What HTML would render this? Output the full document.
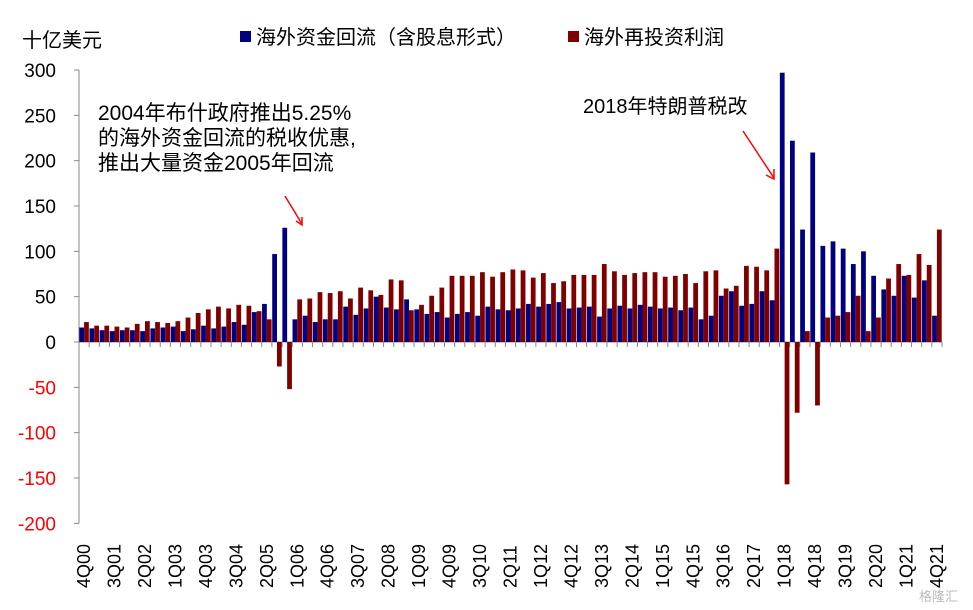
<!DOCTYPE html>
<html><head><meta charset="utf-8">
<style>
body{margin:0;background:#fff;}
svg{display:block;font-family:"Liberation Sans","Noto Sans CJK SC",sans-serif;}
</style></head>
<body>
<svg id="chart" width="973" height="610" viewBox="0 0 973 610">
<text x="22" y="47" font-size="20" fill="#000">十亿美元</text>
<g>
<rect x="240" y="31" width="11" height="11" fill="#000080"/>
<text x="256" y="44" font-size="20">海外资金回流（含股息形式）</text>
<rect x="568" y="31" width="11" height="11" fill="#800000"/>
<text x="584" y="44" font-size="20">海外再投资利润</text>
</g>
<g id="axes"></g>
<g id="bars"></g>
<g>
<text x="98" y="120" font-size="21">2004年布什政府推出5.25%</text>
<text x="98" y="145" font-size="21">的海外资金回流的税收优惠,</text>
<text x="98" y="170" font-size="21">推出大量资金2005年回流</text>
<line x1="285" y1="196" x2="302" y2="224" stroke="#ff0000" stroke-width="1.5"/>
<polyline points="296,221 302,225 302,217" fill="none" stroke="#ff0000" stroke-width="1.5"/>
</g>
<g>
<text x="583" y="113" font-size="20">2018年特朗普税改</text>
<line x1="743" y1="131" x2="774" y2="178" stroke="#ff0000" stroke-width="1.5"/>
<polyline points="766,175 774,179 774,169" fill="none" stroke="#ff0000" stroke-width="1.5"/>
</g>
<text x="958" y="601" font-size="13" fill="#bbb" text-anchor="end">格隆汇</text>
</svg>
<script>
const categories=[];
const qs=['1Q','2Q','3Q','4Q'];
categories.push('4Q00');
for(let y=1;y<=21;y++){for(let q=0;q<4;q++){categories.push(qs[q]+String(y).padStart(2,'0'));}}
const repatriation=[16,15,13,12,13,13,12,15,16,17,12,14,18,15,17,22,19,33,42,97,126,25,29,22,25,25,39,30,37,50,38,36,47,36,31,33,27,31,33,29,39,36,35,37,42,39,42,44,37,38,39,28,37,40,37,41,39,37,38,35,38,25,29,51,56,40,42,56,46,297,222,124,209,106,111,103,86,100,73,58,51,73,49,68,29];
const reinvested=[22,18,18,17,16,20,23,22,21,23,27,32,36,39,37,41,40,34,25,-27,-52,47,48,55,54,56,48,60,57,52,69,68,35,41,51,60,73,73,73,77,72,77,80,79,71,76,65,67,74,74,74,86,78,74,76,77,77,72,73,75,65,78,79,59,62,84,83,79,103,-157,-78,12,-70,27,29,33,51,12,27,70,86,74,97,85,124];
const yTicks=[300,250,200,150,100,50,0,-50,-100,-150,-200];
const NS='http://www.w3.org/2000/svg';
const X0=79,X1=942,Y0=342,PX=0.9067;
const gw=(X1-X0)/categories.length;
function y(v){return Y0-v*PX;}
function x(i){return X0+i*gw;}
function mk(t,a,p){const e=document.createElementNS(NS,t);for(const k in a)e.setAttribute(k,a[k]);p.appendChild(e);return e;}
const ax=document.getElementById('axes'),bg=document.getElementById('bars');
const yl=mk('line',{x1:X0,y1:y(300),x2:X0,y2:y(-200),stroke:'#888','stroke-width':1},ax);


yTicks.forEach(t=>{
 const tk=mk('line',{x1:X0-5,y1:y(t),x2:X0,y2:y(t),stroke:'#888'},ax);
 
 
 const tx=mk('text',{x:56,y:y(t)+7,'font-size':19,'text-anchor':'end',fill:t<0?'#ff0000':'#000'},ax);
 tx.textContent=t;
 
 
});
categories.forEach((c,i)=>{
 const bw=gw*0.47;
 const b=repatriation[i],r=reinvested[i];
 const rb=mk('rect',{x:x(i)+gw*0.03,y:Math.min(y(b),Y0),width:bw,height:Math.abs(b*PX),fill:'#000080'},bg);
 
 
 const rr=mk('rect',{x:x(i)+gw*0.5,y:Math.min(y(r),Y0),width:bw,height:Math.abs(r*PX),fill:'#800000'},bg);
 
 
 const tk=mk('line',{x1:x(i+1),y1:Y0,x2:x(i+1),y2:Y0+5,stroke:'#888'},ax);
 
 
 if(i%3===0){
  const cx=x(i)+gw/2+6;
  const t=mk('text',{x:cx,y:588,'font-size':18,transform:'rotate(-90 '+cx+' 588)'},ax);
  t.textContent=c;
  
  
 }
});
const zl=mk('line',{x1:X0,y1:Y0,x2:X1,y2:Y0,stroke:'#888'},ax);


</script>
</body></html>
